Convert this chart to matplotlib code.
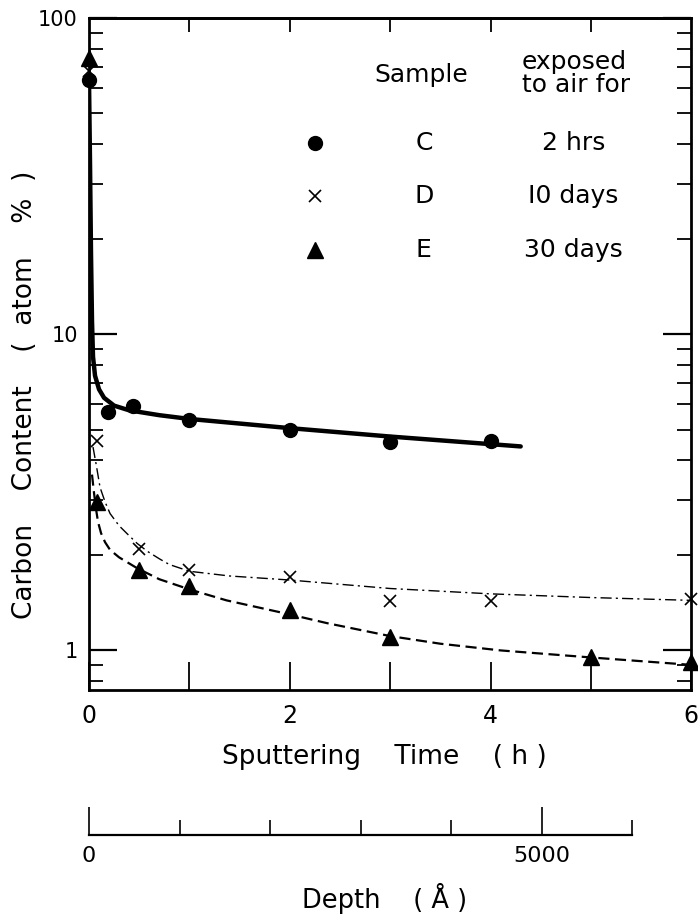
import numpy as np
import matplotlib
matplotlib.use("Agg")
import matplotlib.pyplot as plt
from matplotlib.ticker import FixedLocator, NullFormatter, LogLocator

plt.rcParams['font.family'] = ['DejaVu Sans']

# measured points (sputtering time h, carbon atom %)
c_x = [0.0, 0.19, 0.44, 1.0, 2.0, 3.0, 4.0]
c_y = [64, 5.7, 5.95, 5.35, 5.0, 4.55, 4.6]
d_x = [0.0, 0.08, 0.5, 1.0, 2.0, 3.0, 4.0, 6.0]
d_y = [68, 4.6, 2.1, 1.8, 1.71, 1.43, 1.43, 1.45]
e_x = [0.0, 0.08, 0.5, 1.0, 2.0, 3.0, 5.0, 6.0]
e_y = [75, 2.95, 1.8, 1.6, 1.34, 1.1, 0.95, 0.92]

# hand drawn fit curves
c_fit_x = [0.0, 0.01, 0.02, 0.03, 0.04, 0.06, 0.1, 0.15, 0.25, 0.4, 0.7, 1.0, 2.0, 3.0, 4.3]
c_fit_y = [64, 35, 18, 11, 8.5, 7.4, 6.7, 6.3, 5.95, 5.75, 5.55, 5.4, 5.05, 4.75, 4.42]
d_fit_x = [0.04, 0.07, 0.11, 0.16, 0.21, 0.3, 0.38, 0.48, 0.58, 0.7, 0.8, 1.0, 1.4,
           2.0, 3.0, 4.0, 5.0, 6.0]
d_fit_y = [4.4, 3.9, 3.28, 2.95, 2.71, 2.48, 2.34, 2.18, 2.06, 1.95, 1.87, 1.78, 1.72,
           1.67, 1.57, 1.51, 1.47, 1.44]
e_fit_x = [0.03, 0.05, 0.07, 0.09, 0.12, 0.16, 0.21, 0.3, 0.48, 0.7, 1.0, 1.37, 2.0, 2.37,
           3.0, 3.5, 4.1, 5.0, 6.0]
e_fit_y = [3.6, 3.15, 2.8, 2.55, 2.35, 2.2, 2.08, 1.97, 1.82, 1.68, 1.56, 1.44, 1.3, 1.22,
           1.11, 1.05, 1.0, 0.95, 0.9]

legend_rows = [("o", "C", "2 hrs"), ("x", "D", "I0 days"), ("^", "E", "30 days")]

depth_ticks = [0, 1000, 2000, 3000, 4000, 5000, 6000]

fig = plt.figure(figsize=(6.98, 9.15), dpi=100)
ax = fig.add_axes([0.1275, 0.246, 0.863, 0.734])

ax.plot(c_fit_x, c_fit_y, color="black", lw=3.2, solid_capstyle="round", zorder=3)
ax.plot(d_fit_x, d_fit_y, color="black", lw=1.0, linestyle=(0, (8, 3, 1.5, 3)), zorder=2)
ax.plot(e_fit_x, e_fit_y, color="black", lw=1.6, linestyle=(0, (5, 2.5)), zorder=2)

ax.plot(c_x, c_y, "o", color="black", ms=10, zorder=4, clip_on=False)
ax.plot(d_x, d_y, "x", color="black", ms=9, mew=1.2, zorder=4, clip_on=False)
ax.plot(e_x, e_y, "^", color="black", ms=11, zorder=4, clip_on=False)

ax.set_yscale("log")
ax.set_xlim(0, 6)
ax.set_ylim(0.75, 100)

ax.yaxis.set_major_locator(FixedLocator([1, 10, 100]))
ax.set_yticklabels(["1", "10", "100"])
ax.yaxis.set_minor_locator(LogLocator(base=10, subs=np.arange(2, 10)))
ax.yaxis.set_minor_formatter(NullFormatter())
ax.tick_params(axis="y", which="major", direction="in", length=20, width=1.6,
               left=True, right=True, labelsize=15, pad=8)
ax.tick_params(axis="y", which="minor", direction="in", length=10, width=1.3,
               left=True, right=True)

ax.xaxis.set_major_locator(FixedLocator([0, 2, 4, 6]))
ax.xaxis.set_minor_locator(FixedLocator([1, 3, 5]))
ax.set_xticklabels(["0", "2", "4", "6"])
ax.tick_params(axis="x", which="both", direction="in", length=20, width=1.3,
               labelsize=17, pad=10, top=False)

top = ax.secondary_xaxis("top")
top.set_xticks([1, 2, 3, 4, 5])
top.tick_params(direction="in", length=10, width=1.3, labeltop=False)

for sp in ax.spines.values():
    sp.set_linewidth(2)
top.spines["top"].set_linewidth(2)

fig.text(384 / 698, 1 - 757 / 915, "Sputtering    Time    ( h )", fontsize=19,
         ha="center", va="center")
fig.text(25 / 698, 1 - 395 / 915, "Carbon    Content    (  atom    %  )", fontsize=19,
         ha="center", va="center", rotation=90)

# legend drawn as a small table
ax.text(0.551, 0.915, "Sample", transform=ax.transAxes, fontsize=18, ha="center", va="center")
ax.text(0.719, 0.918, "exposed\nto air for", transform=ax.transAxes, fontsize=18,
        ha="left", va="center", linespacing=0.95)
row_y = [0.814, 0.735, 0.655]
for (mk, name, expo), yy in zip(legend_rows, row_y):
    if mk == "x":
        ax.plot([0.375], [yy], mk, color="black", ms=9, mew=1.2, transform=ax.transAxes)
    else:
        ax.plot([0.375], [yy], mk, color="black", ms=11 if mk == "^" else 10,
                transform=ax.transAxes)
    ax.text(0.556, yy, name, transform=ax.transAxes, fontsize=18, ha="center", va="center")
    ax.text(0.804, yy, expo, transform=ax.transAxes, fontsize=18, ha="center", va="center")

# depth axis below
dax = fig.add_axes([0.1275, 0.0874, 0.778, 0.0001])
dax.set_xlim(0, 6000)
dax.set_ylim(0, 1)
for s in ["top", "left", "right"]:
    dax.spines[s].set_visible(False)
dax.spines["bottom"].set_linewidth(1.6)
dax.set_yticks([])
dax.xaxis.set_major_locator(FixedLocator([0, 5000]))
dax.xaxis.set_minor_locator(FixedLocator([t for t in depth_ticks if t not in (0, 5000)]))
dax.set_xticklabels(["0", "5000"])
dax.tick_params(axis="x", which="major", direction="in", length=20, width=1.2,
                labelsize=16, pad=8)
dax.tick_params(axis="x", which="minor", direction="in", length=11, width=1.2)
fig.text(385 / 698, 1 - 898 / 915, "Depth    ( Å )", fontsize=18.5, ha="center", va="center")

fig.savefig("out.png", dpi=100)
